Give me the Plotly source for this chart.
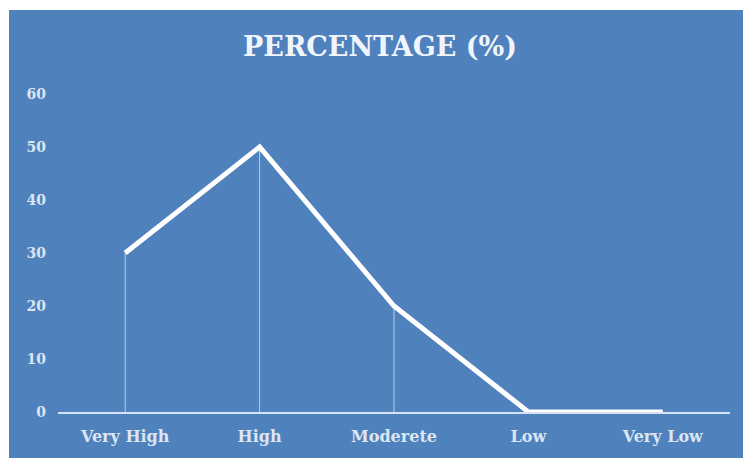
import plotly.graph_objects as go

categories = ["Very High", "High", "Moderete", "Low", "Very Low"]
percentages = [30, 50, 20, 0, 0]
y_ticks = [0, 10, 20, 30, 40, 50, 60]

BLUE = "rgb(79,129,189)"
LABEL = "rgb(220,230,242)"

drop_x, drop_y = [], []
for c, v in zip(categories, percentages):
    drop_x += [c, c, None]
    drop_y += [v, 0, None]

fig = go.Figure()
fig.add_trace(go.Scatter(
    x=drop_x, y=drop_y, mode="lines",
    line=dict(color="rgba(230,238,250,0.7)", width=1),
    hoverinfo="skip", showlegend=False,
))
fig.add_trace(go.Scatter(
    x=categories, y=percentages, mode="lines",
    line=dict(color="white", width=5),
    cliponaxis=False, showlegend=False,
))

W, H = 743, 458
L, R, T, B = 58, 13, 94, 46
pw, ph = W - L - R, H - T - B

fig.update_layout(
    width=W, height=H,
    margin=dict(l=L, r=R, t=T, b=B, pad=0),
    paper_bgcolor=BLUE, plot_bgcolor=BLUE,
    title=dict(
        text="<b>PERCENTAGE (%)</b>",
        font=dict(family="DejaVu Serif", size=27, color="rgb(240,245,252)"),
        x=380 / W, xanchor="center", xref="container",
        y=1 - 47 / H, yanchor="middle", yref="container",
    ),
    xaxis=dict(
        type="category", range=[-0.5, 4.5],
        showgrid=False, zeroline=False,
        showline=True, linecolor="rgb(214,227,245)", linewidth=2,
        ticks="", ticklabelstandoff=9,
        tickfont=dict(family="DejaVu Serif", size=16, color=LABEL, weight="bold"),
    ),
    yaxis=dict(
        range=[0, 60], tickvals=y_ticks,
        showgrid=False, zeroline=False, showline=False,
        ticks="", ticklabelstandoff=11,
        tickfont=dict(family="DejaVu Serif", size=14, color=LABEL, weight="bold"),
    ),
    shapes=[
        dict(type="rect", xref="paper", yref="paper", layer="above",
             x0=-L / pw - 0.01, x1=(9 - L) / pw, y0=-B / ph - 0.01, y1=(H - B) / ph + 0.01,
             fillcolor="white", line=dict(width=0)),
        dict(type="rect", xref="paper", yref="paper", layer="above",
             x0=-L / pw - 0.01, x1=1 + R / pw + 0.01, y0=(H - B - 10) / ph, y1=(H - B) / ph + 0.01,
             fillcolor="white", line=dict(width=0)),
    ],
)

fig.write_html("out.html")
